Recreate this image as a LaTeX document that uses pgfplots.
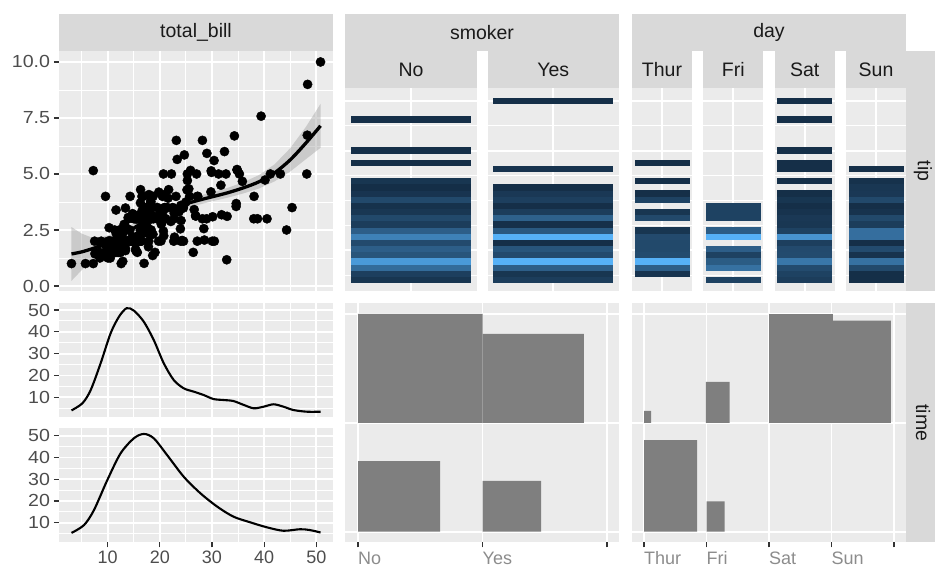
\documentclass[border=0pt]{standalone}
\usepackage{pgfplots}
\pgfplotsset{compat=1.18}
\usepackage{pgfplotstable}
\usepackage{fontspec}
\setmainfont{Liberation Sans}
\definecolor{ggpanel}{RGB}{235,235,235}
\definecolor{ggstrip}{RGB}{217,217,217}
\definecolor{ggstriptext}{RGB}{26,26,26}
\definecolor{ggaxis}{RGB}{77,77,77}
\definecolor{ggaxislight}{RGB}{140,140,140}
\definecolor{ggtick}{RGB}{51,51,51}
\definecolor{ggbar}{RGB}{127,127,127}
\definecolor{ggribbon}{RGB}{153,153,153}
\newcommand{\axfont}{\fontsize{18}{21}\selectfont}
\newcommand{\ayfont}{\fontsize{17.5}{21}\selectfont}
\newcommand{\stfont}{\fontsize{19.5}{23}\selectfont}
\pgfdeclareplotmark{stripeW}{\pgfpathrectangle{\pgfpoint{-60pt}{-3.12pt}}{\pgfpoint{120pt}{6.25pt}}\pgfusepathqfill}
\pgfdeclareplotmark{stripeN}{\pgfpathrectangle{\pgfpoint{-27.5pt}{-3.12pt}}{\pgfpoint{55pt}{6.25pt}}\pgfusepathqfill}

\pgfplotstableread{
bill tip
16.99 1.01
10.34 1.66
21.01 3.5
23.68 3.31
24.59 3.61
25.29 4.71
8.77 2.0
26.88 3.12
15.04 1.96
14.78 3.23
10.27 1.71
35.26 5.0
15.42 1.57
18.43 3.0
14.83 3.02
21.58 3.92
10.33 1.67
16.29 3.71
16.97 3.5
20.65 3.35
17.92 4.08
20.29 2.75
15.77 2.23
39.42 7.58
19.82 3.18
17.81 2.34
13.37 2.0
12.69 2.0
21.7 4.3
19.65 3.0
9.55 1.45
18.35 2.5
15.06 3.0
20.69 2.45
17.78 3.27
24.06 3.6
16.31 2.0
16.93 3.07
18.69 2.31
31.27 5.0
16.04 2.24
17.46 2.54
13.94 3.06
9.68 1.32
30.4 5.6
18.29 3.0
22.23 5.0
32.4 6.0
28.55 2.05
18.04 3.0
12.54 2.5
10.29 2.6
34.81 5.2
9.94 1.56
25.56 4.34
19.49 3.51
38.01 3.0
26.41 1.5
11.24 1.76
48.27 6.73
20.29 3.21
13.81 2.0
11.02 1.98
18.29 3.76
17.59 2.64
20.08 3.15
16.45 2.47
3.07 1.0
20.23 2.01
15.01 2.09
12.02 1.97
17.07 3.0
26.86 3.14
25.28 5.0
14.73 2.2
10.51 1.25
17.92 3.08
27.2 4.0
22.76 3.0
17.29 2.71
19.44 3.0
16.66 3.4
10.07 1.83
32.68 5.0
15.98 2.03
34.83 5.17
13.03 2.0
18.28 4.0
24.71 5.85
21.16 3.0
28.97 3.0
22.49 3.5
5.75 1.0
16.32 4.3
22.75 3.25
40.17 4.73
27.28 4.0
12.03 1.5
21.01 3.0
12.46 1.5
11.35 2.5
15.38 3.0
44.3 2.5
22.42 3.48
20.92 4.08
15.36 1.64
20.49 4.06
25.21 4.29
18.24 3.76
14.31 4.0
14.0 3.0
7.25 1.0
38.07 4.0
23.95 2.55
25.71 4.0
17.31 3.5
29.93 5.07
10.65 1.5
12.43 1.8
24.08 2.92
11.69 2.31
13.42 1.68
14.26 2.5
15.95 2.0
12.48 2.52
29.8 4.2
8.52 1.48
14.52 2.0
11.38 2.0
22.82 2.18
19.08 1.5
20.27 2.83
11.17 1.5
12.26 2.0
18.26 3.25
8.51 1.25
10.33 2.0
14.15 2.0
16.0 2.0
13.16 2.75
17.47 3.5
34.3 6.7
41.19 5.0
27.05 5.0
16.43 2.3
8.35 1.5
18.64 1.36
11.87 1.63
9.78 1.73
7.51 2.0
14.07 2.5
13.13 2.0
17.26 2.74
24.55 2.0
19.77 2.0
29.85 5.14
48.17 5.0
25.0 3.75
13.39 2.61
16.49 2.0
21.5 3.5
12.66 2.5
16.21 2.0
13.81 2.0
17.51 3.0
24.52 3.48
20.76 2.24
31.71 4.5
10.59 1.61
10.63 2.0
50.81 10.0
15.81 3.16
7.25 5.15
31.85 3.18
16.82 4.0
32.9 3.11
17.89 2.0
14.48 2.0
9.6 4.0
34.63 3.55
34.65 3.68
23.33 5.65
45.35 3.5
23.17 6.5
40.55 3.0
20.69 5.0
20.9 3.5
30.46 2.0
18.15 3.5
23.1 4.0
15.69 1.5
19.81 4.19
28.44 2.56
15.48 2.02
16.58 4.0
7.56 1.44
10.34 2.0
43.11 5.0
13.0 2.0
13.51 2.0
18.71 4.0
12.74 2.01
13.0 2.0
16.4 2.5
20.53 4.0
16.47 3.23
26.59 3.41
38.73 3.0
24.27 2.03
12.76 2.23
30.06 2.0
25.89 5.16
48.33 9.0
13.27 2.5
28.17 6.5
12.9 1.1
28.15 3.0
11.59 1.5
7.74 1.44
30.14 3.09
12.16 2.2
13.42 3.48
8.58 1.92
15.98 3.0
13.42 1.58
16.27 2.5
10.09 2.0
20.45 3.0
13.28 2.72
22.12 2.88
24.01 2.0
15.69 3.0
11.61 3.39
10.77 1.47
15.53 3.0
10.07 1.25
12.6 1.0
32.83 1.17
35.83 4.67
29.03 5.92
27.18 2.0
22.67 2.0
17.82 1.75
18.78 3.0
}\tips

\pgfplotstableread{
x fit
3.07 1.43
5 1.52
7 1.66
9 1.82
12 2.12
15 2.58
18 3.02
21 3.38
24 3.60
27 3.80
30 3.98
33 4.16
36 4.38
39 4.65
42 5.05
45 5.63
48 6.38
50.81 7.15
}\loess

% confidence band outline: upper edge left to right, lower edge right to left
\pgfplotstableread{
x y
3.07 2.63
5 2.34
7 2.16
9 2.19
12 2.38
15 2.79
18 3.21
21 3.56
24 3.79
27 4.00
30 4.18
33 4.38
36 4.63
39 4.95
42 5.43
45 6.15
48 7.10
50.81 8.13
50.81 6.17
48 5.66
45 5.11
42 4.67
39 4.35
36 4.13
33 3.94
30 3.78
27 3.60
24 3.41
21 3.20
18 2.83
15 2.37
12 1.86
9 1.45
7 1.16
5 0.70
3.07 0.23
}\band

\pgfplotstableread{
x d
3.07 4.0
5.16 7.25
6.75 13.3
8.66 25.6
10.57 39.3
12.17 46.9
13.63 50.8
15.03 49.7
16.94 44.6
18.85 36.2
20.76 25.6
22.68 17.9
24.6 14.1
26.5 12.6
28.4 11.05
30.3 9.2
32.2 8.76
34.1 8.3
36.1 6.5
38.0 4.96
39.9 5.7
41.8 6.8
43.7 5.7
45.6 4.18
48.2 3.4
50.81 3.4
}\densDinner

\pgfplotstableread{
x d
3.07 5.3
5.47 8.9
7.38 15.8
9.94 29.6
12.49 41.9
15.03 48.8
16.94 50.8
18.85 48.8
21.4 41.1
24.6 31.1
27.8 23.5
31.0 17.4
34.1 12.8
37.3 10.2
40.5 7.9
43.7 6.3
46.9 7.0
48.8 6.6
50.81 5.5
}\densLunch

% tip histogram bins (30 bins), relative count per bin
\pgfplotstableread{
tip f
1.000 0.08
1.310 0.15
1.621 0.48
1.931 0.82
2.241 0.31
2.552 0.38
2.862 0.23
3.172 0.64
3.483 0.38
3.793 0.13
4.103 0.22
4.414 0.09
4.724 0.05
5.034 0.22
5.345 0.07
5.655 0.02
5.966 0.08
6.897 0.03
7.517 0.03
9.069 0.03
}\binNo

\pgfplotstableread{
tip f
1.000 0.13
1.310 0.08
1.621 0.38
1.931 1.00
2.241 0.23
2.552 0.31
2.862 0.03
3.172 1.00
3.483 0.34
3.793 0.04
4.103 0.40
4.414 0.13
4.724 0.03
5.034 0.15
5.345 0.10
5.655 0.03
6.586 0.06
10.000 0.03
}\binYes

\pgfplotstableread{
tip f
1.310 0.06
1.621 0.38
1.931 1.00
2.241 0.24
2.552 0.22
2.862 0.22
3.172 0.23
3.483 0.08
4.103 0.22
4.414 0.08
5.034 0.17
5.345 0.03
5.966 0.03
6.897 0.03
}\binThur

\pgfplotstableread{
tip f
1.000 0.17
1.621 0.52
1.931 0.36
2.241 0.17
2.552 0.38
3.172 1.00
3.483 0.37
4.103 0.17
4.414 0.17
4.724 0.17
}\binFri

\pgfplotstableread{
tip f
1.000 0.13
1.310 0.17
1.621 0.24
1.931 0.56
2.241 0.24
2.552 0.23
2.862 0.15
3.172 0.78
3.483 0.17
3.793 0.09
4.103 0.10
4.414 0.06
4.724 0.03
5.034 0.08
5.345 0.03
5.966 0.03
6.586 0.03
6.897 0.03
7.517 0.03
9.069 0.03
10.000 0.03
}\binSat

\pgfplotstableread{
tip f
1.000 0.03
1.310 0.03
1.621 0.22
1.931 0.52
2.241 0.06
2.552 0.24
2.862 0.03
3.172 0.50
3.483 0.50
3.793 0.13
4.103 0.22
4.414 0.06
4.724 0.03
5.034 0.22
5.345 0.10
5.655 0.09
5.966 0.05
6.586 0.03
}\binSun

\pgfplotsset{
  gg/.style={
    scale only axis, anchor=south west,
    axis background/.style={fill=ggpanel},
    axis line style={draw=none},
    grid=both,
    major grid style={draw=white, line width=1.8pt},
    minor grid style={draw=white, line width=0.9pt},
    tick align=outside, major tick length=5pt, minor tick length=0pt,
    tick style={draw=ggtick, line width=1.1pt},
    xminorticks=false, yminorticks=false,
    xtick pos=left, ytick pos=left,
    tick label style={font=\axfont, text=ggaxis},
    yticklabel style={font=\ayfont, xscale=1.12},
  },
  noxt/.style={xmajorticks=false, xticklabels={}},
  noyt/.style={ymajorticks=false, yticklabels={}},
  stripax/.style={gg, noxt, noyt, width=#1, height=203.5pt,
    xmin=0, xmax=1, ymin=0.418, ymax=10.66,
    xtick={0.5}, ytick={2.5,5,7.5,10}, minor ytick={1.25,3.75,6.25,8.75},
    colormap={ggblue}{rgb255=(19,43,67) rgb255=(86,177,247)},
    point meta min=0, point meta max=1},
  stripplot/.style={scatter, only marks, mark=#1, point meta=explicit,
    scatter/use mapped color={fill=mapped color, draw=none}},
  catlabels/.style={xticklabel style={anchor=north west, inner xsep=0pt,
    inner ysep=0pt, yshift=-4pt, text=ggaxislight}},
}

\begin{document}
\begin{tikzpicture}
\path[use as bounding box] (0,0) rectangle (935pt,567pt);
% column strips
\fill[ggstrip] (59pt,516pt) rectangle (333pt,553pt);
\node[font=\stfont, text=ggstriptext] at (196pt,534.5pt) {total\_bill};
\fill[ggstrip] (345pt,516pt) rectangle (619pt,553pt);
\node[font=\stfont, text=ggstriptext] at (482pt,534.5pt) {smoker};
\fill[ggstrip] (632pt,516pt) rectangle (906pt,553pt);
\node[font=\stfont, text=ggstriptext] at (769pt,534.5pt) {day};
% facet strips
\fill[ggstrip] (345pt,479pt) rectangle (477pt,516pt);
\node[font=\stfont, text=ggstriptext] at (411pt,497.5pt) {No};
\fill[ggstrip] (487.5pt,479pt) rectangle (619pt,516pt);
\node[font=\stfont, text=ggstriptext] at (553.25pt,497.5pt) {Yes};
\fill[ggstrip] (632pt,479pt) rectangle (692pt,516pt);
\node[font=\stfont, text=ggstriptext] at (662pt,497.5pt) {Thur};
\fill[ggstrip] (703.33pt,479pt) rectangle (763.33pt,516pt);
\node[font=\stfont, text=ggstriptext] at (733.33pt,497.5pt) {Fri};
\fill[ggstrip] (774.67pt,479pt) rectangle (834.67pt,516pt);
\node[font=\stfont, text=ggstriptext] at (804.67pt,497.5pt) {Sat};
\fill[ggstrip] (846pt,479pt) rectangle (906pt,516pt);
\node[font=\stfont, text=ggstriptext] at (876pt,497.5pt) {Sun};
% row strips
\fill[ggstrip] (906pt,275.5pt) rectangle (941pt,516pt);
\node[font=\stfont, text=ggstriptext, rotate=-90] at (923pt,395.75pt) {tip};
\fill[ggstrip] (906pt,24.5pt) rectangle (941pt,264pt);
\node[font=\stfont, text=ggstriptext, rotate=-90] at (923pt,144.25pt) {time};

% total_bill vs tip
\begin{axis}[gg, noxt, at={(59pt,275.5pt)}, width=274pt, height=240.5pt,
  xmin=0.68, xmax=53.2, ymin=-0.246, ymax=10.49,
  xtick={10,20,30,40,50}, minor xtick={5,15,25,35,45},
  ytick={0,2.5,5,7.5,10}, yticklabels={0.0,2.5,5.0,7.5,10.0},
  minor ytick={1.25,3.75,6.25,8.75}]
\addplot[only marks, mark=*, mark size=4.6pt, black] table[x=bill, y=tip] \tips;
\addplot[fill=ggribbon, fill opacity=0.4, draw=none] table[x=x, y=y] \band -- cycle;
\addplot[black, line width=3.3pt, smooth] table[x=x, y=fit] \loess;
\end{axis}

% density Dinner
\begin{axis}[gg, noxt, at={(59pt,149.5pt)}, width=274pt, height=114.5pt,
  xmin=0.68, xmax=53.2, ymin=0.75, ymax=53.2,
  xtick={10,20,30,40,50}, minor xtick={5,15,25,35,45},
  ytick={10,20,30,40,50}, yticklabels={10,20,30,40,50}, minor ytick={5,15,25,35,45}]
\addplot[black, line width=2.1pt, smooth] table[x=x, y=d] \densDinner;
\end{axis}

% density Lunch
\begin{axis}[gg, at={(59pt,24.5pt)}, width=274pt, height=114.5pt,
  xmin=0.68, xmax=53.2, ymin=0.9, ymax=53.54,
  xtick={10,20,30,40,50}, xticklabels={10,20,30,40,50}, minor xtick={5,15,25,35,45},
  ytick={10,20,30,40,50}, yticklabels={10,20,30,40,50}, minor ytick={5,15,25,35,45}]
\addplot[black, line width=2.1pt, smooth] table[x=x, y=d] \densLunch;
\end{axis}

% smoker facets
\begin{axis}[stripax=132pt, at={(345pt,275.5pt)}]
\addplot[stripplot=stripeW] table[x expr=0.5, y=tip, meta=f] \binNo;
\end{axis}
\begin{axis}[stripax=131.5pt, at={(487.5pt,275.5pt)}]
\addplot[stripplot=stripeW] table[x expr=0.5, y=tip, meta=f] \binYes;
\end{axis}
% day facets
\begin{axis}[stripax=60pt, at={(632pt,275.5pt)}]
\addplot[stripplot=stripeN] table[x expr=0.5, y=tip, meta=f] \binThur;
\end{axis}
\begin{axis}[stripax=60pt, at={(703.33pt,275.5pt)}]
\addplot[stripplot=stripeN] table[x expr=0.5, y=tip, meta=f] \binFri;
\end{axis}
\begin{axis}[stripax=60pt, at={(774.67pt,275.5pt)}]
\addplot[stripplot=stripeN] table[x expr=0.5, y=tip, meta=f] \binSat;
\end{axis}
\begin{axis}[stripax=60pt, at={(846pt,275.5pt)}]
\addplot[stripplot=stripeN] table[x expr=0.5, y=tip, meta=f] \binSun;
\end{axis}

% smoker x time
\begin{axis}[gg, noyt, catlabels, at={(345pt,24.5pt)}, width=274pt, height=239.5pt,
  xmin=0.8956, xmax=3.0964, ymin=0.901, ymax=3.103,
  xtick={1,2,3}, xticklabels={No,Yes,{}}, ytick={1,2,3}]
\addplot[fill=ggbar, draw=none] coordinates {(1,2) (2,2) (2,3.002) (1,3.002) (1,2)};
\addplot[fill=ggbar, draw=none] coordinates {(2,2) (2.815,2) (2.815,2.818) (2,2.818) (2,2)};
\addplot[fill=ggbar, draw=none] coordinates {(1,1) (1.66,1) (1.66,1.65) (1,1.65) (1,1)};
\addplot[fill=ggbar, draw=none] coordinates {(2,1) (2.47,1) (2.47,1.467) (2,1.467) (2,1)};
\end{axis}

% day x time
\begin{axis}[gg, noyt, catlabels, at={(632pt,24.5pt)}, width=274pt, height=239.5pt,
  xmin=0.808, xmax=5.192, ymin=0.901, ymax=3.103,
  xtick={1,2,3,4,5}, xticklabels={Thur,Fri,Sat,Sun,{}}, ytick={1,2,3}]
\addplot[fill=ggbar, draw=none] coordinates {(1,2) (1.112,2) (1.112,2.11) (1,2.11) (1,2)};
\addplot[fill=ggbar, draw=none] coordinates {(1.99,2) (2.37,2) (2.37,2.378) (1.99,2.378) (1.99,2)};
\addplot[fill=ggbar, draw=none] coordinates {(3,2) (4.02,2) (4.02,3.0) (3,3.0) (3,2)};
\addplot[fill=ggbar, draw=none] coordinates {(4.02,2) (4.95,2) (4.95,2.94) (4.02,2.94) (4.02,2)};
\addplot[fill=ggbar, draw=none] coordinates {(1,1) (1.85,1) (1.85,1.843) (1,1.843) (1,1)};
\addplot[fill=ggbar, draw=none] coordinates {(2,1) (2.29,1) (2.29,1.28) (2,1.28) (2,1)};
\end{axis}
\end{tikzpicture}
\end{document}
